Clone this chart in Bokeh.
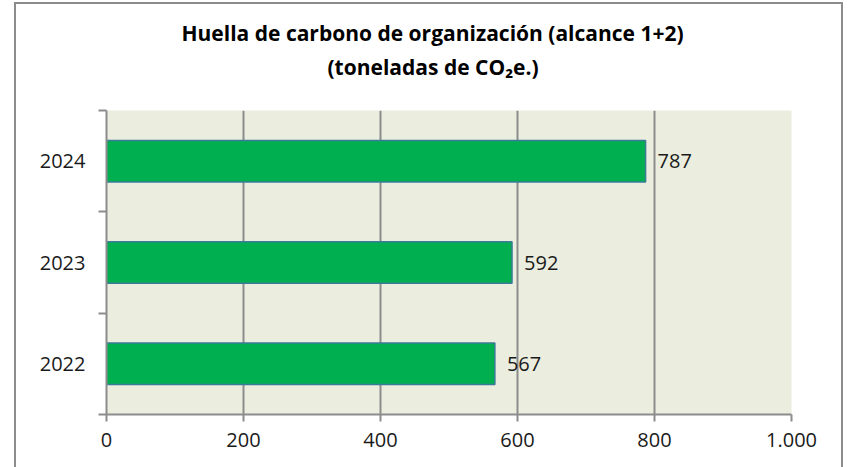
from bokeh.plotting import figure
from bokeh.models import (FactorRange, Range1d, LinearAxis, FixedTicker, Title,
                          ColumnDataSource, LabelSet)
from bokeh.embed import file_html
from bokeh.resources import INLINE
from bokeh.core.properties import value

# ---- data ----
years = ["2022", "2023", "2024"]
emissions = [567, 592, 787]
value_labels = ["567", "592", "787"]
x_ticks = [0, 200, 400, 600, 800, 1000]
x_tick_labels = ["0", "200", "400", "600", "800", "1.000"]
title_line1 = "Huella de carbono de organización (alcance 1+2)"
title_line2 = "(toneladas de CO\u2082e.)"

FONT = "Open Sans"
GRID = "#8c8c8c"

src = ColumnDataSource(dict(year=years, val=emissions, lab=value_labels))

p = figure(width=829, height=465, output_backend="svg", toolbar_location=None,
           y_range=FactorRange(factors=years), x_range=Range1d(0, 1000),
           y_axis_location=None, x_axis_location=None,
           min_border_left=90, min_border_right=54, min_border_top=106,
           min_border_bottom=55)
p.styles = {"border-top": "2px solid #8c8c8c", "border-left": "2px solid #8c8c8c",
            "border-right": "2px solid #8c8c8c", "margin-left": "14px",
            "margin-top": "2px"}
p.outline_line_color = None
p.background_fill_color = "#EBEDDF"
p.border_fill_color = "white"

# bars
p.hbar(y="year", right="val", left=0, height=0.41, source=src,
       fill_color="#00B050", line_color="#3A7C96", line_width=1.5)

# value labels
p.add_layout(LabelSet(x="val", y="year", text="lab", source=src, x_offset=12,
                      text_font=value(FONT), text_font_size="20px",
                      text_baseline="middle", text_align="left",
                      text_color="#1a1a1a"))

# x axis
xaxis = LinearAxis(ticker=FixedTicker(ticks=x_ticks))
xaxis.major_label_overrides = {t: l for t, l in zip(x_ticks, x_tick_labels)}
xaxis.axis_line_color = GRID
xaxis.axis_line_width = 2
xaxis.major_tick_line_color = GRID
xaxis.major_tick_line_width = 2
xaxis.major_tick_out = 7
xaxis.major_tick_in = 0
xaxis.minor_tick_line_color = None
xaxis.major_label_text_font = FONT
xaxis.major_label_text_font_size = "20px"
xaxis.major_label_text_color = "#1a1a1a"
xaxis.major_label_standoff = 11
p.add_layout(xaxis, "below")

# y axis: labels at category centres (synthetic coords), ticks at boundaries
yaxis = LinearAxis(ticker=FixedTicker(ticks=[i + 0.5 for i in range(len(years))],
                                      minor_ticks=list(range(len(years) + 1))))
yaxis.major_label_overrides = {i + 0.5: y for i, y in enumerate(years)}
yaxis.axis_line_color = GRID
yaxis.axis_line_width = 2
yaxis.major_tick_line_color = None
yaxis.major_tick_out = 0
yaxis.major_tick_in = 0
yaxis.minor_tick_line_color = GRID
yaxis.minor_tick_line_width = 2
yaxis.minor_tick_out = 8
yaxis.minor_tick_in = 0
yaxis.major_label_text_font = FONT
yaxis.major_label_text_font_size = "20px"
yaxis.major_label_text_color = "#1a1a1a"
yaxis.major_label_standoff = 13
p.add_layout(yaxis, "left")

# grid
p.ygrid.grid_line_color = None
p.xgrid.ticker = FixedTicker(ticks=x_ticks)
p.xgrid.grid_line_color = GRID
p.xgrid.grid_line_width = 2

# title: blank spacer next to the plot, then line 2, then line 1 (outermost)
p.add_layout(Title(text=" ", standoff=12, text_font=FONT,
                   text_font_size="10px"), "above")
for txt, off in [(title_line2, 221), (title_line1, 75)]:
    p.add_layout(Title(text=txt, align="left", offset=off, standoff=4,
                       vertical_align="bottom",
                       text_font=FONT, text_font_size="21px",
                       text_font_style="bold", text_color="#000000"), "above")

open("out.html", "w").write(file_html(p, INLINE))
